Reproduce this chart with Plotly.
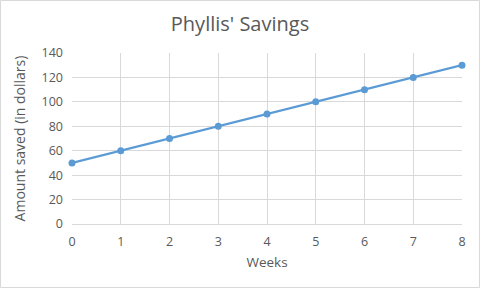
import plotly.graph_objects as go

weeks = [0, 1, 2, 3, 4, 5, 6, 7, 8]
savings = [50, 60, 70, 80, 90, 100, 110, 120, 130]

W, H = 480, 288
ml, mr, mt, mb = 72, 18, 53, 64
pw = W - ml - mr
ph = H - mt - mb

fig = go.Figure()
fig.add_trace(go.Scatter(
    x=weeks, y=savings, mode="lines+markers",
    line=dict(color="#5B9BD5", width=2.25),
    marker=dict(color="#5B9BD5", size=7),
    cliponaxis=False,
))

font = "Open Sans, Noto Sans, sans-serif"
fig.update_layout(
    width=W, height=H,
    margin=dict(l=ml, r=mr, t=mt, b=mb),
    paper_bgcolor="white", plot_bgcolor="white",
    showlegend=False,
    font=dict(family=font, color="#595959", size=12),
    title=dict(text="Phyllis' Savings", x=0.5, xanchor="center",
               y=1 - 24 / H, yanchor="middle",
               font=dict(size=20, color="#595959")),
    xaxis=dict(range=[0, 8], tickvals=weeks, showgrid=True, gridcolor="#d9d9d9",
               zeroline=False, showline=True, linecolor="#d9d9d9",
               ticks="", ticklabelstandoff=6,
               title=dict(text="Weeks", font=dict(size=13.5), standoff=8),
               tickfont=dict(size=12.5)),
    yaxis=dict(range=[0, 140], dtick=20, showgrid=True, gridcolor="#d9d9d9",
               zeroline=False, showline=False, ticks="", ticklabelstandoff=8,
               title=dict(text="Amount saved (in dollars)", font=dict(size=14), standoff=12),
               tickfont=dict(size=12.5)),
)
fig.add_shape(type="rect", xref="paper", yref="paper",
              x0=-(ml - 0.5) / pw, x1=1 + (mr - 0.5) / pw,
              y0=-(mb - 0.5) / ph, y1=1 + (mt - 0.5) / ph,
              line=dict(color="#d9d9d9", width=1), layer="below")
fig.write_html("out.html")
